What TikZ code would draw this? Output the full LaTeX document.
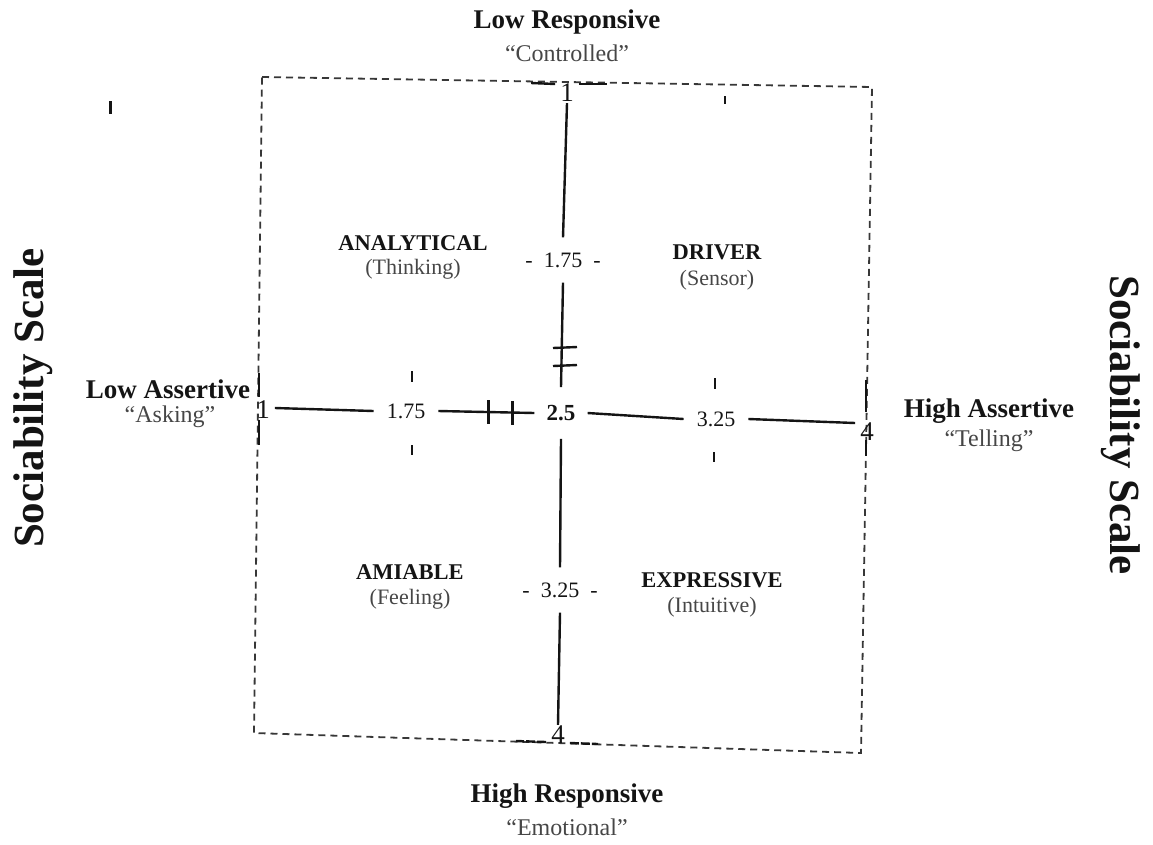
\documentclass[tikz,border=0pt]{standalone}
\usepackage{fontspec}
\setmainfont{Liberation Serif}
\definecolor{ink}{RGB}{20,20,20}
\definecolor{soft}{RGB}{70,70,70}
\begin{document}
\begin{tikzpicture}[x=1pt,y=-1pt,
  head/.style={font=\bfseries\fontsize{27}{30}\selectfont, text=ink, inner sep=0pt},
  sub/.style={font=\fontsize{24}{27}\selectfont, text=soft, inner sep=0pt},
  quad/.style={font=\bfseries\fontsize{22.5}{25}\selectfont, text=ink, inner sep=0pt},
  quadsub/.style={font=\fontsize{22}{25}\selectfont, text=soft, inner sep=0pt},
  axnum/.style={font=\fontsize{22}{25}\selectfont, text=ink, inner sep=9pt},
  endnum/.style={font=\fontsize{27}{30}\selectfont, text=ink, inner sep=2pt},
  side/.style={font=\bfseries\fontsize{43}{46}\selectfont, text=ink, inner sep=0pt},
  axis/.style={line width=2.4pt, draw=ink},
  frame/.style={line width=1.8pt, draw=ink!85, dash pattern=on 7pt off 5pt},
  tick/.style={line width=2.4pt, draw=ink}]
\useasboundingbox (0,0) rectangle (1153,844);

% frame
\coordinate (tl) at (262,77);
\coordinate (tr) at (872,87);
\coordinate (br) at (861,753);
\coordinate (bl) at (254,733);
\draw[frame] (tl) -- (tr) -- (br) -- (bl) -- cycle;

% top / bottom labels
\node[head] (lowresp) at (567,22) {Low Responsive};
\node[sub] (contr) at (567,53) {``Controlled''};
\node[head] (highresp) at (567,796) {High Responsive};
\node[sub] (emot) at (567,827) {``Emotional''};

% left / right labels
\node[head] (lowass) at (168,389) {Low Assertive};
\node[sub] (asking) at (170,417) {``Asking''};
\node[head] (highass) at (989,411) {High Assertive};
\node[sub] (telling) at (989,441) {``Telling''};

\node[side, rotate=90] (socl) at (33,398) {Sociability Scale};
\node[side, rotate=-90] (socr) at (1121,425) {Sociability Scale};

% quadrant labels
\node[quad] (ana) at (413,243) {ANALYTICAL};
\node[quadsub] (anas) at (413,269) {(Thinking)};
\node[quad] (drv) at (717,252) {DRIVER};
\node[quadsub] (drvs) at (717,280) {(Sensor)};
\node[quad] (ami) at (410,572) {AMIABLE};
\node[quadsub] (amis) at (410,599) {(Feeling)};
\node[quad] (exp) at (712,580) {EXPRESSIVE};
\node[quadsub] (exps) at (712,607) {(Intuitive)};

% vertical axis nodes
\node[endnum, inner sep=1pt] (v1) at (567,93) {1};
\node[axnum, inner sep=15pt] (v175) at (563,260) {-\ \ 1.75\ \ -};
\node[axnum, font=\bfseries\fontsize{23}{26}\selectfont, inner ysep=18pt, inner xsep=12pt] (c25) at (561,413) {2.5};
\node[axnum, inner sep=15pt] (v325) at (560,590) {-\ \ 3.25\ \ -};
\node[endnum, inner sep=1pt] (v4) at (558,735) {4};

% horizontal axis nodes
\node[endnum, inner sep=5pt] (h1) at (263,410) {1};
\node[axnum, inner xsep=13pt] (h175) at (406,411) {1.75};
\node[axnum, inner xsep=13pt] (h325) at (716,419) {3.25};
\node[endnum, inner sep=5pt] (h4) at (867,432) {4};

% vertical axis
\draw[axis] (v1.south) -- (v175.north);
\draw[axis] (v175.south) -- (c25.north);
\draw[axis] (c25.south) -- (v325.north);
\draw[axis] (v325.south) -- (v4.north);

% horizontal axis
\draw[axis] ([yshift=2pt]h1.east) -- (h175.west);
\draw[axis] (h175.east) -- (c25.west);
\draw[axis] (c25.east) -- (h325.west);
\draw[axis] (h325.east) -- ([yshift=9pt]h4.west);

% cross ticks on vertical axis
\draw[tick] (553,348) -- (577,347);
\draw[tick] (553,366) -- (577,365);
% cross ticks on horizontal axis
\draw[tick, line width=3pt] (488,400) -- (488,424);
\draw[tick, line width=3pt] (512,401) -- (512,425);

% small guide ticks
\draw[tick, line width=2pt] (412,371) -- (412,382);
\draw[tick, line width=2pt] (412,445) -- (412,455);
\draw[tick, line width=2pt] (715,378) -- (715,389);
\draw[tick, line width=2pt] (714,452) -- (714,462);

% solid parts on frame near the end numbers
\draw[tick] (v1.west) ++(-4,-9) -- ++(-24,-1);
\draw[tick] (v1.east) ++(4,-9) -- ++(28,0);
\draw[tick, dash pattern=on 9pt off 2pt] (v4.west) ++(-4,7) -- ++(-30,-1);
\draw[tick, dash pattern=on 9pt off 2pt] (v4.east) ++(4,8) -- ++(28,1);
\draw[tick] (259,373) -- (259,397);
\draw[tick] (259,420) -- (259,445);
\draw[tick] (866,380) -- (866,412);
\draw[tick] (866,440) -- (866,456);

% stray marks of the original
\draw[tick, line width=3pt] (110,101) -- (110,114);
\draw[tick, line width=2.4pt] (725,96) -- (725,104);
\end{tikzpicture}
\end{document}
